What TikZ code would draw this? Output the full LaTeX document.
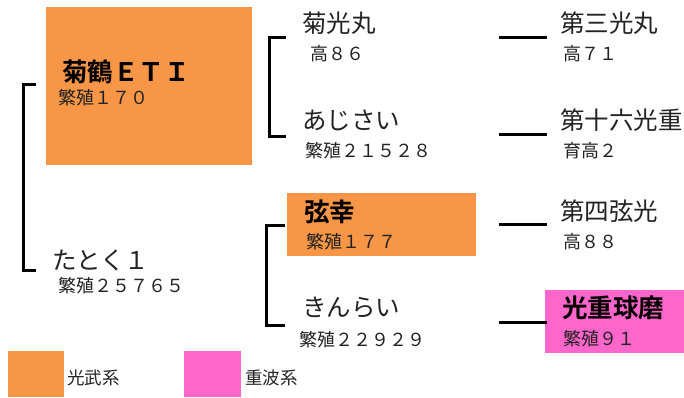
\documentclass[tikz,border=0pt]{standalone}
\usepackage{fontspec}
\setmainfont{Noto Sans CJK JP}[BoldFont={Noto Sans CJK JP Bold}]
\definecolor{kobu}{HTML}{F79646}
\definecolor{juha}{HTML}{FF66CC}
\definecolor{ink}{HTML}{222222}
\tikzset{
  big/.style={anchor=west,inner sep=0pt,text=ink,font=\fontsize{24.5}{28}\selectfont},
  bigb/.style={anchor=west,inner sep=0pt,text=black,font=\fontsize{25.5}{28}\selectfont\bfseries},
  small/.style={anchor=west,inner sep=0pt,text=ink,font=\fontsize{18}{21}\selectfont},
  leg/.style={anchor=west,inner sep=0pt,text=ink,font=\fontsize{17.5}{20}\selectfont},
  fillbox/.style={anchor=north west,inner sep=0pt,draw=none},
  conn/.style={line width=3pt,black},
}
\begin{document}
\begin{tikzpicture}[x=1pt,y=-1pt]
\useasboundingbox (0,0) rectangle (684,397);
% boxes
\node[fillbox,fill=kobu,minimum width=206pt,minimum height=158pt] (b1) at (46,7) {};
\node[fillbox,fill=kobu,minimum width=189pt,minimum height=63pt] (b2) at (287,193) {};
\node[fillbox,fill=juha,minimum width=139pt,minimum height=63pt] (b3) at (545,290) {};
\node[fillbox,fill=kobu,minimum width=56pt,minimum height=46pt] (l1) at (8,351) {};
\node[fillbox,fill=juha,minimum width=57pt,minimum height=46pt] (l2) at (184,351) {};
% texts
\node[bigb] (n1) at (62,72) {菊鶴ＥＴＩ};
\node[small] (s1) at (58,98) {繁殖１７０};
\node[big] (n2) at (52,260) {たとく１};
\node[small] (s2) at (58,286) {繁殖２５７６５};
\node[big] (n3) at (302,23) {菊光丸};
\node[small] (s3) at (310,54) {高８６};
\node[big] (n4) at (302,120) {あじさい};
\node[small] (s4) at (305,151) {繁殖２１５２８};
\node[bigb] (n5) at (304,212) {弦幸};
\node[small] (s5) at (306,242) {繁殖１７７};
\node[big] (n6) at (302,308) {きんらい};
\node[small] (s6) at (299,340) {繁殖２２９２９};
\node[big] (n7) at (560,23) {第三光丸};
\node[small] (s7) at (563,54) {高７１};
\node[big] (n8) at (560,120) {第十六光重};
\node[small] (s8) at (563,151) {育高２};
\node[big] (n9) at (560,211) {第四弦光};
\node[small] (s9) at (563,242) {高８８};
\node[bigb] (n10) at (562,308) {光重球磨};
\node[small] (s10) at (563,339) {繁殖９１};
\node[leg] (t1) at (67,378) {光武系};
\node[leg] (t2) at (245,378) {重波系};
% bracket coordinates
\coordinate (a1) at (36,84);
\coordinate (a2) at (23,84);
\coordinate (a3) at (23,270);
\coordinate (a4) at (36,270);
\coordinate (c1) at (286,37);
\coordinate (c2) at (269,37);
\coordinate (c3) at (269,136);
\coordinate (c4) at (286,136);
\coordinate (d1) at (285,225);
\coordinate (d2) at (266,225);
\coordinate (d3) at (266,325);
\coordinate (d4) at (285,325);
\coordinate (r1a) at (499,37);  \coordinate (r1b) at (547,37);
\coordinate (r2a) at (499,134); \coordinate (r2b) at (547,134);
\coordinate (r3a) at (499,224); \coordinate (r3b) at (547,224);
\coordinate (r4a) at (499,322); \coordinate (r4b) at (547,322);
\draw[conn] (a1) -- (a2) -- (a3) -- (a4);
\draw[conn] (c1) -- (c2) -- (c3) -- (c4);
\draw[conn] (d1) -- (d2) -- (d3) -- (d4);
\draw[conn] (r1a) -- (r1b);
\draw[conn] (r2a) -- (r2b);
\draw[conn] (r3a) -- (r3b);
\draw[conn] (r4a) -- (r4b);
\end{tikzpicture}
\end{document}
